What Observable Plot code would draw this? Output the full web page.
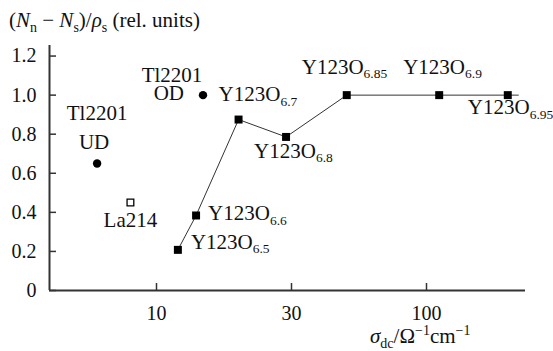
<!DOCTYPE html>
<html><head><meta charset="utf-8">
<script src="https://cdn.jsdelivr.net/npm/d3@7"></script>
<script src="https://cdn.jsdelivr.net/npm/@observablehq/plot@0.6"></script>
<style>
html,body{margin:0;padding:0;background:#fff}
#wrap{position:relative;width:553px;height:351px;color:#111}
#wrap svg{display:block;position:absolute;left:0;top:0}
.title{position:absolute;white-space:nowrap;font-size:21px;line-height:21px;z-index:2}
.title .sub{position:relative;top:5px;font-size:14px}
.title .sup{position:relative;top:-8px;font-size:14px}
#ytitle{left:9px;top:10px}
#xtitle{left:370px;top:326px}
</style>
</head><body>
<div id="wrap">
  <div class="title" id="ytitle">(<i>N</i><span class="sub">n</span> − <i>N</i><span class="sub">s</span>)/<i>ρ</i><span class="sub">s</span> (rel. units)</div>
  <div class="title" id="xtitle"><i>σ</i><span class="sub">dc</span>/Ω<span class="sup">−1</span>cm<span class="sup">−1</span></div>
</div>
<script>
// ---- data ----
const yboNames = ["6.5", "6.6", "6.7", "6.8", "6.85", "6.9", "6.95"];
const yboSigma = [11.9, 13.8, 19.5, 28.7, 49.1, 112, 206.6];
const yboRatio = [0.208, 0.384, 0.875, 0.786, 1.0, 1.0, 1.0];
const lineTailSigma = 227;            // connecting line runs a little past the last sample
const tlNames = ["UD", "OD"];
const tlSigma = [6.17, 14.6];
const tlRatio = [0.65, 1.0];
const laNames = ["La214"];
const laSigma = [8.09];
const laRatio = [0.45];
const xTicks = [10, 30, 100];
const yTicks = [0, 0.2, 0.4, 0.6, 0.8, 1.0, 1.2];

// ---- tables built from the arrays ----
const ybco = yboNames.map((n, i) => ({name: "Y123O" + n, sigma: yboSigma[i], ratio: yboRatio[i]}));
const lineData = [...ybco, {sigma: lineTailSigma, ratio: yboRatio[yboRatio.length - 1]}];
const tl = tlNames.map((n, i) => ({name: n, sigma: tlSigma[i], ratio: tlRatio[i]}));
const la = laNames.map((n, i) => ({name: n, sigma: laSigma[i], ratio: laRatio[i]}));

// ---- label layout (offsets in px from the point) ----
const labelLayout = [
  {row: tl[0], text: "Tl2201", dx: 0, dy: -44, anchor: "middle"},
  {row: tl[0], text: "UD", dx: -3, dy: -15, anchor: "middle"},
  {row: tl[1], text: "Tl2201", dx: -31, dy: -13, anchor: "middle"},
  {row: tl[1], text: "OD", dx: -19, dy: 5, anchor: "end"},
  {row: la[0], text: "La214", dx: 0, dy: 24, anchor: "middle"},
  {row: ybco[0], dx: 13, dy: -1, anchor: "start"},
  {row: ybco[1], dx: 12, dy: 5, anchor: "start"},
  {row: ybco[2], dx: -20, dy: -18.5, anchor: "start"},
  {row: ybco[3], dx: -32, dy: 21, anchor: "start"},
  {row: ybco[4], dx: -45, dy: -21.5, anchor: "start"},
  {row: ybco[5], dx: -36, dy: -21.5, anchor: "start"},
  {row: ybco[6], dx: -40, dy: 19, anchor: "start"}
];

const FONT = "Times New Roman";
const STACK = '"Times New Roman", "Liberation Serif", Tinos, FreeSerif, serif';
const INK = "#111";
const AXIS = "#333";
const xDomain = [4.19, 10, 30, 100, 242];

const labelMarks = labelLayout.map(l => Plot.text([l.row], {
  x: "sigma", y: "ratio",
  text: () => l.text ?? l.row.name,
  dx: l.dx, dy: l.dy, textAnchor: l.anchor, lineAnchor: "bottom",
  fontSize: 21, fontFamily: FONT, fill: INK
}));

const svg = Plot.plot({
  width: 553, height: 351,
  marginLeft: 49, marginRight: 28, marginTop: 45, marginBottom: 61,
  x: {type: "log", domain: xDomain, range: [49, 156, 291, 426, 525]},
  y: {domain: [0, 1.254]},
  marks: [
    Plot.axisX(xTicks, {tickSize: -7, tickPadding: 22, stroke: AXIS, strokeWidth: 1.5, fill: INK,
      fontSize: 20, fontFamily: FONT, label: null, tickFormat: d => String(d)}),
    Plot.axisY(yTicks, {tickSize: -7, tickPadding: 20, stroke: AXIS, strokeWidth: 1.5, fill: INK,
      fontSize: 20, fontFamily: FONT, label: null, tickFormat: d => d === 0 ? "0" : d.toFixed(1)}),
    Plot.ruleY([0], {stroke: AXIS, strokeWidth: 2}),
    Plot.ruleX([xDomain[0]], {stroke: AXIS, strokeWidth: 2}),
    Plot.line(lineData, {x: "sigma", y: "ratio", stroke: "#333", strokeWidth: 1}),
    Plot.dot(ybco, {x: "sigma", y: "ratio", symbol: "square", fill: "#000", r: 4.5}),
    Plot.dot(tl, {x: "sigma", y: "ratio", fill: "#000", r: 4.2}),
    Plot.dot(la, {x: "sigma", y: "ratio", symbol: "square", fill: "#fff", stroke: "#000", strokeWidth: 1.3, r: 3.8}),
    ...labelMarks
  ]
});
document.getElementById("wrap").appendChild(svg);

// subscripts in chemical labels
d3.select(svg).selectAll("text").each(function () {
  if (this.childElementCount) return;
  const m = /^(Y123O)(\d.*)$/.exec(this.textContent);
  if (m) {
    this.textContent = m[1];
    d3.select(this).append("tspan").attr("font-size", 13.5).attr("dy", 4.5).text(m[2]);
  }
});

// serif family as inline style on every text node and on the HTML titles
svg.style.fontFamily = STACK;
svg.querySelectorAll("text").forEach(t => { t.style.fontFamily = STACK; });
document.querySelectorAll(".title").forEach(d => { d.style.fontFamily = STACK; });
</script></body></html>
